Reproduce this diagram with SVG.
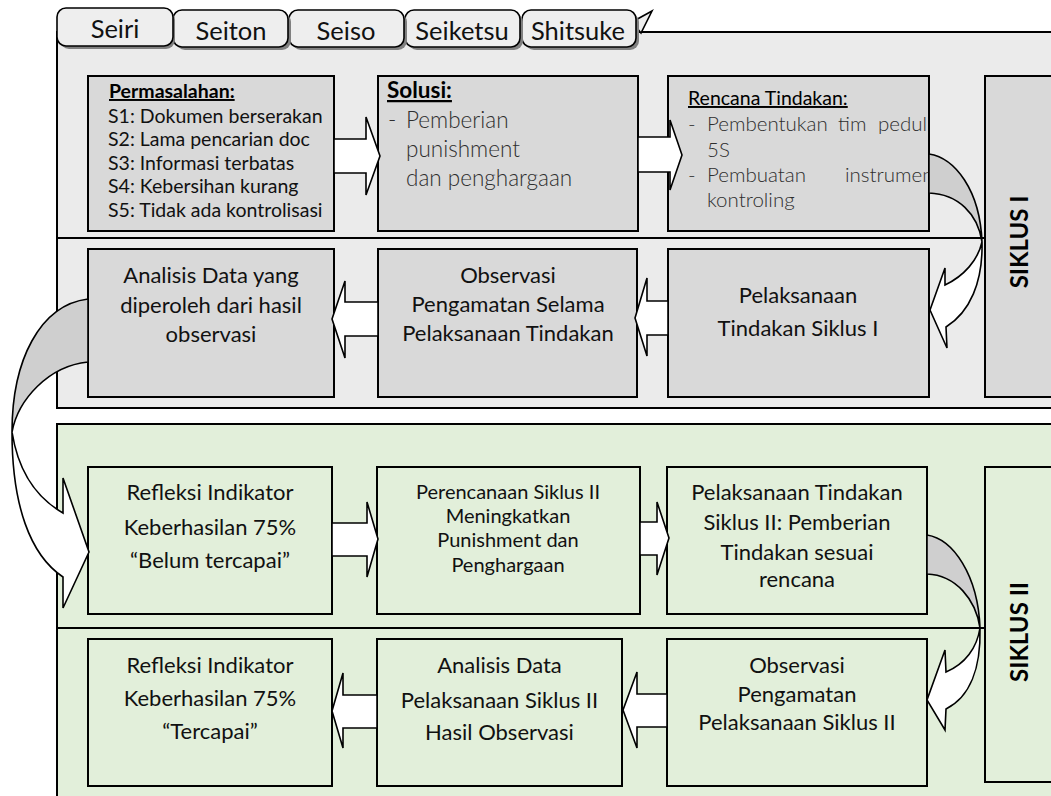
<svg xmlns="http://www.w3.org/2000/svg" width="1051" height="796" viewBox="0 0 1051 796">
<style>
.p1{fill:#ebebeb;stroke:#000;stroke-width:2}
.p2{fill:#e2efda;stroke:#000;stroke-width:2}
.b1{fill:#d9d9d9;stroke:#000;stroke-width:2}
.b2{fill:#e2efda;stroke:#000;stroke-width:2}
.div{stroke:#000;stroke-width:2}
.tab{fill:#eeeeee;stroke:#000;stroke-width:1.6}
.sh{fill:#808080}
.t{font-family:Lato,"Liberation Sans",sans-serif;font-size:22px;fill:#111;text-anchor:middle}
.tl{font-family:Lato,"Liberation Sans",sans-serif;font-size:19.5px;fill:#111}
.lt{font-family:Lato,"Liberation Sans",sans-serif;font-size:20.5px;font-weight:300;fill:#2e2e2e}
.hd{font-family:Lato,"Liberation Sans",sans-serif;font-size:19.5px;font-weight:bold;fill:#000;text-decoration:underline}
.tb{font-family:Lato,"Liberation Sans",sans-serif;font-size:25.5px;fill:#111;text-anchor:middle}
.sk{font-family:Lato,"Liberation Sans",sans-serif;font-size:24px;font-weight:bold;fill:#000;text-anchor:middle}
.ar{fill:#fff;stroke:#000;stroke-width:1.6;stroke-linejoin:miter}
.bk{fill:#cfcfcf;stroke:#000;stroke-width:1.6}
</style>
<defs>
<clipPath id="clipR"><rect x="668" y="76" width="261" height="155"/></clipPath>
</defs>
<rect width="1051" height="796" fill="#fff"/>
<g id="panels">
<rect class="p1" x="57" y="32" width="1010" height="376"/>
<line class="div" x1="57" y1="238" x2="1051" y2="238"/>
<rect class="p2" x="57" y="424" width="1010" height="400"/>
<line class="div" x1="57" y1="628" x2="1051" y2="628"/>
</g>
<g id="tabs">
<path d="M632,22 L652,11 L641,33 Z" fill="#eeeeee" stroke="#000" stroke-width="1.6"/>
<rect class="sh" x="525" y="13" width="114" height="37" rx="9"/>
<rect class="tab" x="522" y="10" width="114" height="37" rx="9"/>
<text class="tb" x="578" y="40">Shitsuke</text>
<rect class="sh" x="408" y="13" width="115" height="37" rx="9"/>
<rect class="tab" x="405" y="10" width="115" height="37" rx="9"/>
<text class="tb" x="462" y="40">Seiketsu</text>
<rect class="sh" x="292" y="13" width="115" height="37" rx="9"/>
<rect class="tab" x="289" y="10" width="115" height="37" rx="9"/>
<text class="tb" x="346" y="40">Seiso</text>
<rect class="sh" x="176" y="13" width="115" height="37" rx="9"/>
<rect class="tab" x="173" y="10" width="115" height="37" rx="9"/>
<text class="tb" x="231" y="40">Seiton</text>
<rect class="sh" x="60" y="11" width="115" height="38" rx="9"/>
<rect class="tab" x="57" y="8" width="116" height="38" rx="9"/>
<text class="tb" x="115" y="38">Seiri</text>
</g>
<g id="n-permasalahan">
<rect class="b1" x="88" y="76" width="246" height="155"/>
<text class="hd" x="109" y="98">Permasalahan:</text>
<text class="tl" x="108" y="122.5">S1: Dokumen berserakan</text>
<text class="tl" x="108" y="146">S2: Lama pencarian doc</text>
<text class="tl" x="108" y="169.5">S3: Informasi terbatas</text>
<text class="tl" x="108" y="193">S4: Kebersihan kurang</text>
<text class="tl" x="108" y="216.5">S5: Tidak ada kontrolisasi</text>
</g>
<g id="n-solusi">
<rect class="b1" x="378" y="76" width="260" height="155"/>
<text class="hd" x="387" y="98" style="font-size:22.5px">Solusi:</text>
<text class="lt" x="388" y="128" style="font-size:22.5px">-</text>
<text class="lt" x="406" y="128" style="font-size:22.5px">Pemberian</text>
<text class="lt" x="406" y="157" style="font-size:22.5px">punishment</text>
<text class="lt" x="406" y="186" style="font-size:22.5px">dan penghargaan</text>
</g>
<g id="n-rencana">
<rect class="b1" x="668" y="76" width="261" height="155"/>
<g clip-path="url(#clipR)">
<text class="tl" x="688" y="105" style="text-decoration:underline;fill:#000">Rencana Tindakan:</text>
<text class="lt" y="131"><tspan x="688">-</tspan><tspan x="707">Pembentukan</tspan><tspan x="838">tim</tspan><tspan x="878">pedul</tspan></text>
<text class="lt" x="707" y="157">5S</text>
<text class="lt" y="182"><tspan x="688">-</tspan><tspan x="707">Pembuatan</tspan><tspan x="845">instrumen</tspan></text>
<text class="lt" x="707" y="207">kontroling</text>
</g>
</g>
<g id="n-siklus1">
<rect class="b1" x="985" y="76" width="80" height="321"/>
<text class="sk" transform="translate(1028,242) rotate(-90)">SIKLUS I</text>
</g>
<g id="n-analisis1">
<rect class="b1" x="88" y="249" width="246" height="148"/>
<text class="t" x="211" y="283">Analisis Data yang</text>
<text class="t" x="211" y="312.5">diperoleh dari hasil</text>
<text class="t" x="211" y="342">observasi</text>
</g>
<g id="n-observasi1">
<rect class="b1" x="378" y="249" width="259" height="148"/>
<text class="t" x="508" y="283">Observasi</text>
<text class="t" x="508" y="312">Pengamatan Selama</text>
<text class="t" x="508" y="341">Pelaksanaan Tindakan</text>
</g>
<g id="n-pelaksanaan1">
<rect class="b1" x="668" y="249" width="261" height="148"/>
<text class="t" x="798" y="303">Pelaksanaan</text>
<text class="t" x="798" y="336">Tindakan Siklus I</text>
</g>
<g id="n-refleksi1">
<rect class="b2" x="88" y="467" width="244" height="147"/>
<text class="t" x="210" y="500">Refleksi Indikator</text>
<text class="t" x="210" y="535">Keberhasilan 75%</text>
<text class="t" x="210" y="568">“Belum tercapai”</text>
</g>
<g id="n-perencanaan2">
<rect class="b2" x="377" y="467" width="263" height="147"/>
<text class="t" x="508" y="499" style="font-size:20px">Perencanaan Siklus II</text>
<text class="t" x="508" y="523" style="font-size:20px">Meningkatkan</text>
<text class="t" x="508" y="547" style="font-size:20px">Punishment dan</text>
<text class="t" x="508" y="572" style="font-size:20px">Penghargaan</text>
</g>
<g id="n-pelaksanaan2">
<rect class="b2" x="667" y="467" width="260" height="147"/>
<text class="t" x="797" y="500">Pelaksanaan Tindakan</text>
<text class="t" x="797" y="530">Siklus II: Pemberian</text>
<text class="t" x="797" y="560">Tindakan sesuai</text>
<text class="t" x="797" y="587">rencana</text>
</g>
<g id="n-siklus2">
<rect class="b2" x="985" y="467" width="80" height="315"/>
<text class="sk" transform="translate(1028,632) rotate(-90)">SIKLUS II</text>
</g>
<g id="n-refleksi2">
<rect class="b2" x="88" y="639" width="244" height="147"/>
<text class="t" x="210" y="673">Refleksi Indikator</text>
<text class="t" x="210" y="706">Keberhasilan 75%</text>
<text class="t" x="210" y="739">“Tercapai”</text>
</g>
<g id="n-analisis2">
<rect class="b2" x="377" y="639" width="245" height="147"/>
<text class="t" x="499.5" y="673">Analisis Data</text>
<text class="t" x="499.5" y="708">Pelaksanaan Siklus II</text>
<text class="t" x="499.5" y="740">Hasil Observasi</text>
</g>
<g id="n-observasi2">
<rect class="b2" x="667" y="639" width="260" height="147"/>
<text class="t" x="797" y="673">Observasi</text>
<text class="t" x="797" y="701.5">Pengamatan</text>
<text class="t" x="797" y="730">Pelaksanaan Siklus II</text>
</g>
<g id="connectors">
<polygon class="ar" points="334,139 366,139 366,117 380,156 366,195 366,173 334,173"/>
<polygon class="ar" points="638,137 670,137 670,120 682,155 670,190 670,172 638,172"/>
<polygon class="ar" points="668,301 647,301 647,278 635,318 647,356 647,335 668,335"/>
<polygon class="ar" points="378,302 345,302 345,281 332,319 345,358 345,336 378,336"/>
<polygon class="ar" points="332,523 367,523 367,502 378,539 367,577 367,556 332,556"/>
<polygon class="ar" points="640,522 657,522 657,502 669,538 657,575 657,555 640,555"/>
<polygon class="ar" points="667,694 637,694 637,672 623,710 637,748 637,727 667,727"/>
<polygon class="ar" points="377,695 343,695 343,673 332,711 343,748 343,728 377,728"/>
<path class="bk" d="M929,154 C955,158 980,190 982,242 C978,214 958,194 929,193 Z"/>
<path class="ar" d="M982,242 C983,282 970,312 946,327 L947,348 L930,310 L945,268 L945,285 C964,276 978,260 982,242 Z"/>
<path class="bk" d="M927,535 C953,539 978,575 980,628 C976,600 956,575 927,574 Z"/>
<path class="ar" d="M980,628 C981,668 970,697 946,709 L945,730 L927,700 L945,650 L946,672 C965,664 977,648 980,628 Z"/>
<path class="bk" d="M88,299 C40,305 12,360 12,432 C18,400 48,366 88,362 Z"/>
<path class="ar" d="M12,432 C12,505 30,555 63,577 L63,608 L89,552 L63,478 L63,513 C35,497 18,470 12,432 Z"/>
</g>
</svg>
